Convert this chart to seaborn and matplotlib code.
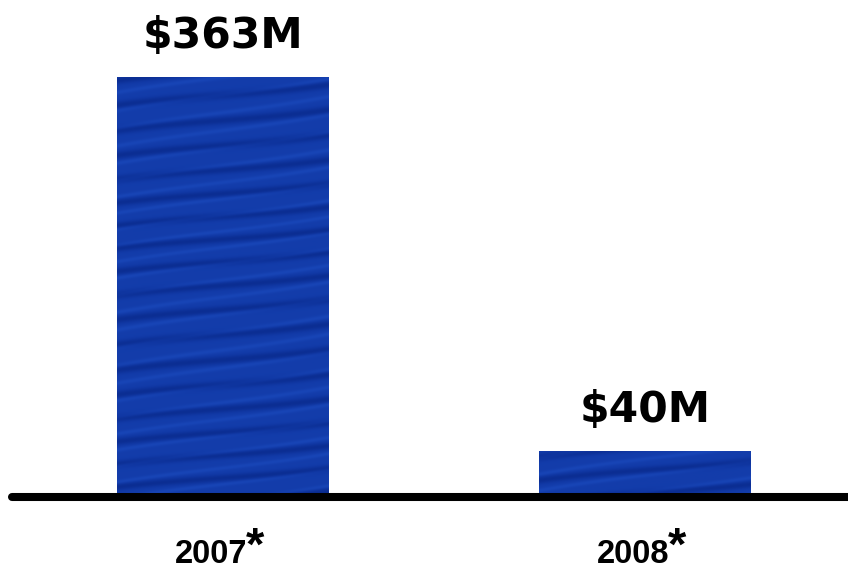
import numpy as np
import pandas as pd
import matplotlib
matplotlib.use("Agg")
import matplotlib.pyplot as plt
import seaborn as sns
from matplotlib.colors import LinearSegmentedColormap

# Revenue by year (in $M)
years = ["2007", "2008"]
revenue_musd = [363, 40]
value_labels = ["$363M", "$40M"]
footnote_mark = "*"

sns.set_theme(style="white")
plt.rcParams["font.family"] = ["DejaVu Sans"]

fig = plt.figure(figsize=(8.48, 5.71), dpi=100)
ax = fig.add_axes([0, 74 / 571, 1, 497 / 571])

df = pd.DataFrame({"year": years, "revenue": revenue_musd})
sns.barplot(data=df, x="year", y="revenue", color="#1139a6", width=0.5,
            saturation=1, edgecolor="none", linewidth=0, ax=ax)

XLIM = (-0.528, 1.481)
YLIM = (0, 429.5)
ax.set_xlim(*XLIM)
ax.set_ylim(*YLIM)

# soft brushed-blue streak texture, clipped to each bar
H, W = 500, 850
r, c = np.mgrid[0:H, 0:W].astype(float)
t = r + 0.13 * c + 4.0 * np.sin(c / 70.0) + 2.0 * np.sin(r / 37.0)
dark = 0.5 + 0.5 * np.sin(2 * np.pi * t / 24.0)
light = 0.5 + 0.5 * np.sin(2 * np.pi * (t + 0.05 * c) / 17.0 + 1.3)
tex = 0.5 * dark ** 4 - 0.25 * light ** 6 + 0.4
cmap = LinearSegmentedColormap.from_list(
    "streak", ["#1b4abd", "#1139a6", "#0a2b8e"])
for bar in ax.patches:
    im = ax.imshow(tex, cmap=cmap, vmin=0, vmax=1, aspect="auto",
                   interpolation="bilinear", extent=[*XLIM, *YLIM],
                   origin="upper", zorder=bar.get_zorder() + 0.1)
    im.set_clip_path(bar)
ax.set_xlim(*XLIM)
ax.set_ylim(*YLIM)

# value labels above the bars
for i, (v, lab) in enumerate(zip(revenue_musd, value_labels)):
    ax.annotate(lab, xy=(i, v), xytext=(0, 21), textcoords="offset points",
                ha="center", va="baseline", fontsize=30.6, fontweight="bold",
                color="black", family=["DejaVu Sans"])

# thick baseline
ax.plot([-0.50, 1.60], [0, 0], color="black", lw=5.8,
        solid_capstyle="round", clip_on=False, zorder=5)

# category labels with raised footnote marks
ax.set_xlabel("")
ax.set_ylabel("")
ax.set_xticks([])
ax.set_yticks([])
for i, yr in enumerate(years):
    ax.annotate(yr, xy=(i, 0), xytext=(-8.6, -47.5), textcoords="offset points",
                ha="center", va="baseline", fontsize=23.5, fontweight="bold",
                color="black", family=["Liberation Sans", "DejaVu Sans"],
                annotation_clip=False)
    ax.annotate(footnote_mark, xy=(i, 0), xytext=(16.3, -20.5),
                textcoords="offset points", ha="left", va="top",
                fontsize=34, fontweight="bold", color="black",
                family=["Liberation Sans", "DejaVu Sans"],
                annotation_clip=False)

for s in ax.spines.values():
    s.set_visible(False)
ax.set_facecolor("white")
fig.patch.set_facecolor("white")

fig.savefig("out.png", dpi=100)
